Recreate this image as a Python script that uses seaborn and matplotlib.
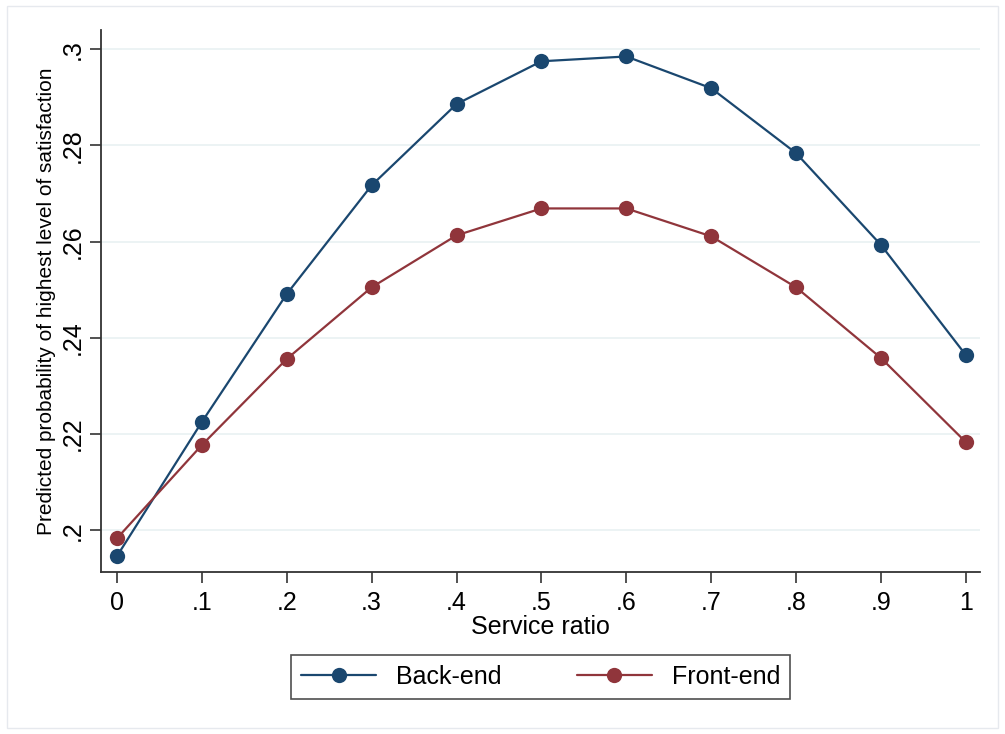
import numpy as np
import pandas as pd
import matplotlib
matplotlib.use('Agg')
import matplotlib.pyplot as plt
import seaborn as sns
from matplotlib.patches import Rectangle

# values
service_ratio = [0, .1, .2, .3, .4, .5, .6, .7, .8, .9, 1]
back_end = [0.1946, 0.2225, 0.2491, 0.2717, 0.2886, 0.2975, 0.2985,
            0.2919, 0.2784, 0.2593, 0.2364]
front_end = [0.1983, 0.2177, 0.2356, 0.2505, 0.2613, 0.2669, 0.2669,
             0.2611, 0.2505, 0.2358, 0.2183]
series_names = ['Back-end', 'Front-end']
x_ticks = [0, .1, .2, .3, .4, .5, .6, .7, .8, .9, 1]
x_labels = ['0', '.1', '.2', '.3', '.4', '.5', '.6', '.7', '.8', '.9', '1']
y_ticks = [.2, .22, .24, .26, .28, .3]
y_labels = ['.2', '.22', '.24', '.26', '.28', '.3']

df = pd.DataFrame({
    'ratio': service_ratio * 2,
    'prob': back_end + front_end,
    'group': [series_names[0]] * len(back_end) + [series_names[1]] * len(front_end),
})

sns.set_style("white")
plt.rcParams['font.family'] = ['Liberation Sans', 'DejaVu Sans']
plt.rcParams['text.color'] = 'black'
plt.rcParams['axes.labelcolor'] = 'black'
plt.rcParams['xtick.color'] = 'black'
plt.rcParams['ytick.color'] = 'black'

fig = plt.figure(figsize=(10.05, 7.34), dpi=100)
ax = fig.add_axes([0.1005, 0.2207, 0.8745, 0.7384])

palette = {'Back-end': '#1a476f', 'Front-end': '#90353b'}
sns.lineplot(data=df, x='ratio', y='prob', hue='group', palette=palette,
             marker='o', markersize=11, markeredgewidth=0, linewidth=1.6,
             ax=ax, legend=False)

ax.set_xlim(-0.0188, 1.0165)
ax.set_ylim(0.1913, 0.304)
ax.set_xticks(x_ticks)
ax.set_xticklabels(x_labels, fontsize=18)
ax.set_yticks(y_ticks)
ax.set_yticklabels(y_labels, fontsize=18, rotation=90, va='center')
ax.yaxis.grid(True, color='#eaf2f3', linewidth=1.3)
ax.set_axisbelow(True)
ax.tick_params(axis='both', direction='out', length=8, width=1.2,
               color='#333333', labelcolor='black', left=True, bottom=True)
ax.tick_params(axis='x', pad=6)
ax.tick_params(axis='y', pad=4)

for side in ['top', 'right']:
    ax.spines[side].set_visible(False)
for side in ['left', 'bottom']:
    ax.spines[side].set_color('#333333')
    ax.spines[side].set_linewidth(1.3)

ax.set_xlabel('Service ratio', fontsize=18, labelpad=0, color='black')
ax.set_ylabel('Predicted probability of highest level of satisfaction',
              fontsize=15, labelpad=3, color='black')

handles = [plt.Line2D([], [], color=palette[n], marker='o', markersize=11,
                      markeredgewidth=0, linewidth=1.6) for n in series_names]
leg = fig.legend(handles, series_names, loc='center', bbox_to_anchor=(0.538, 0.078),
                 ncol=2, fontsize=18, frameon=True, fancybox=False,
                 handlelength=3.0, columnspacing=3.0, borderpad=0.4,
                 labelcolor='black')
leg.get_frame().set_edgecolor('#222222')
leg.get_frame().set_linewidth(1.2)

fig.patches.append(Rectangle((0.007, 0.008), 0.986, 0.984, transform=fig.transFigure,
                             fill=False, edgecolor='#e6e9ee', linewidth=1))

fig.savefig('out.png', dpi=100)
